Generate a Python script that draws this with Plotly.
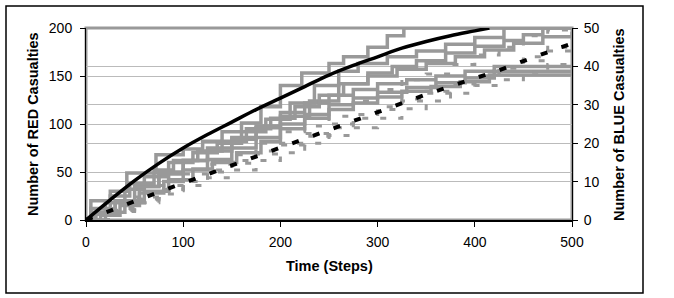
import plotly.graph_objects as go

# ---------------- data ----------------
# Theoretical RED casualties (left axis)
red_theory_t = [0, 25, 50, 75, 100, 125, 150, 175, 200, 225, 250, 275, 300, 325, 350, 375, 400, 415]
red_theory_v = [0, 21, 41, 59, 75, 89, 102, 115, 127, 139, 151, 161, 170, 179, 186, 192, 197, 200]

# Theoretical BLUE casualties (right axis)
blue_theory_t = [0, 25, 50, 75, 100, 125, 150, 175, 200, 225, 250, 275, 300, 325, 350, 375, 400, 425, 450, 475, 500]
blue_theory_v = [0, 2.5, 5.0, 7.3, 9.6, 11.9, 14.2, 16.7, 19.0, 21.2, 23.4, 25.8, 28.2, 30.5, 32.7, 34.8, 36.9, 39.0, 41.4, 43.7, 46.0]

# Simulated RED runs (step lines, left axis)
red_run1_t = [0, 5, 25, 42, 72, 100, 120, 140, 160, 180, 200, 222, 250, 265, 290, 310, 327, 500]
red_run1_v = [0, 20, 30, 49, 68, 74, 82, 92, 101, 118, 140, 153, 163, 170, 180, 192, 200, 200]
red_run2_t = [0, 8, 20, 40, 60, 85, 110, 135, 160, 185, 210, 235, 260, 280, 310, 340, 370, 400, 430, 500]
red_run2_v = [0, 8, 18, 32, 45, 60, 70, 80, 92, 105, 122, 140, 155, 163, 170, 176, 183, 190, 200, 200]
red_run3_t = [0, 10, 30, 55, 75, 100, 125, 150, 175, 200, 230, 260, 290, 315, 340, 370, 400, 430, 450, 470, 500]
red_run3_v = [0, 6, 20, 35, 50, 62, 72, 84, 96, 108, 124, 142, 153, 160, 166, 174, 181, 187, 193, 200, 200]
red_run4_t = [0, 10, 30, 50, 75, 100, 125, 150, 175, 200, 225, 250, 275, 300, 330, 360, 390, 420, 500]
red_run4_v = [0, 8, 20, 35, 48, 62, 75, 86, 98, 112, 122, 130, 136, 142, 146, 150, 155, 160, 160]
red_run5_t = [0, 15, 35, 55, 80, 100, 125, 150, 175, 200, 225, 250, 275, 300, 330, 360, 390, 420, 500]
red_run5_v = [0, 5, 15, 28, 40, 52, 63, 75, 86, 100, 110, 120, 127, 133, 138, 143, 148, 155, 155]
red_run6_t = [0, 20, 40, 60, 85, 110, 130, 155, 180, 200, 225, 250, 275, 300, 325, 355, 385, 415, 500]
red_run6_v = [0, 8, 18, 30, 42, 53, 60, 70, 82, 95, 106, 115, 122, 128, 134, 139, 144, 151, 151]
red_run7_t = [0, 5, 25, 45, 70, 90, 115, 140, 165, 190, 215, 240, 265, 290, 320, 350, 380, 410, 440, 470, 500]
red_run7_v = [0, 12, 25, 38, 52, 62, 72, 82, 95, 106, 118, 130, 142, 150, 157, 163, 170, 177, 184, 191, 196]

# Simulated BLUE runs (dashed step lines, right axis)
blue_run1_t = [0, 25, 50, 75, 100, 125, 150, 175, 200, 225, 250, 275, 300, 325, 350, 375, 400, 425, 450, 475, 500]
blue_run1_v = [0, 3, 6, 9, 12, 14.5, 17, 20, 23, 24.5, 27, 31, 34, 36.5, 38, 40.5, 43, 45, 48, 49.5, 50]
blue_run2_t = [0, 25, 50, 75, 100, 125, 150, 175, 200, 225, 250, 275, 300, 325, 350, 375, 400, 425, 450, 475, 500]
blue_run2_v = [0, 2.8, 5.5, 8, 10.5, 13, 15.5, 18, 20, 22.5, 25, 27.5, 29.5, 31.5, 33, 35.5, 37.5, 40, 42.5, 45, 47]
blue_run3_t = [0, 25, 50, 75, 100, 125, 150, 175, 200, 225, 250, 275, 300, 325, 350, 375, 400, 425, 450, 475, 500]
blue_run3_v = [0, 2.2, 4.5, 6.8, 9, 11, 13, 15.5, 17.5, 20, 22, 24, 26.5, 29, 31, 33, 35, 36.5, 38.5, 40.5, 42]
blue_run4_t = [0, 25, 50, 75, 100, 125, 150, 175, 200, 225, 250, 275, 300, 325, 350, 375, 400, 425, 450, 475, 500]
blue_run4_v = [0, 2.5, 5.2, 7.6, 10, 12.5, 14.8, 17.2, 19.5, 21.8, 24, 26.5, 28.8, 31, 33.5, 35.5, 37.5, 39.5, 41.5, 44, 46]

x_ticks = [0, 100, 200, 300, 400, 500]
y_left_ticks = [0, 50, 100, 150, 200]
y_right_ticks = [0, 10, 20, 30, 40, 50]

# ---------------- figure ----------------
GRAY = "#999999"
FONT = "Liberation Sans, Arial, sans-serif"

fig = go.Figure()

red_runs = [(red_run1_t, red_run1_v), (red_run2_t, red_run2_v), (red_run3_t, red_run3_v),
            (red_run4_t, red_run4_v), (red_run5_t, red_run5_v), (red_run6_t, red_run6_v),
            (red_run7_t, red_run7_v)]
for t, v in red_runs:
    fig.add_trace(go.Scatter(x=t, y=v, mode="lines", line=dict(color=GRAY, width=3.5, shape="hv"),
                             yaxis="y", showlegend=False, hoverinfo="skip"))

blue_runs = [(blue_run1_t, blue_run1_v), (blue_run2_t, blue_run2_v),
             (blue_run3_t, blue_run3_v), (blue_run4_t, blue_run4_v)]
for t, v in blue_runs:
    fig.add_trace(go.Scatter(x=t, y=v, mode="lines",
                             line=dict(color=GRAY, width=3, shape="hv", dash="6px,12px"),
                             yaxis="y2", showlegend=False, hoverinfo="skip"))

fig.add_trace(go.Scatter(x=red_theory_t, y=red_theory_v, mode="lines",
                         line=dict(color="black", width=3.5, shape="spline"),
                         yaxis="y", showlegend=False))
fig.add_trace(go.Scatter(x=blue_theory_t, y=blue_theory_v, mode="lines",
                         line=dict(color="black", width=4, dash="7px,15px"),
                         yaxis="y2", showlegend=False))

fig.update_layout(
    width=674, height=298,
    margin=dict(l=86, r=102, t=28, b=78),
    paper_bgcolor="white", plot_bgcolor="white",
    font=dict(family=FONT, size=14, color="black"),
    xaxis=dict(range=[0, 500], tickvals=x_ticks, ticks="outside", ticklen=5, tickcolor="black",
               showline=True, linecolor="black", linewidth=2, showgrid=False, zeroline=False,
               tickfont=dict(size=14), ticklabelstandoff=3),
    yaxis=dict(range=[0, 200], tickvals=y_left_ticks, ticks="outside", ticklen=5, tickcolor="black",
               showline=True, linecolor="black", linewidth=1, showgrid=True, gridcolor="#bbbbbb",
               gridwidth=1, zeroline=False, tickfont=dict(size=14), ticklabelstandoff=5),
    yaxis2=dict(range=[0, 50], tickvals=y_right_ticks, ticks="outside", ticklen=5, tickcolor="black",
                overlaying="y", side="right", showline=True, linecolor="black", linewidth=1,
                showgrid=True, gridcolor="#bbbbbb", gridwidth=1, zeroline=False,
                tickfont=dict(size=14), ticklabelstandoff=3),
    annotations=[
        dict(text="<b>Number of RED Casualties</b>", xref="paper", yref="paper", x=-0.109, y=0.5,
             textangle=-90, showarrow=False, font=dict(size=14.5), xanchor="center", yanchor="middle"),
        dict(text="<b>Number of BLUE Casualties</b>", xref="paper", yref="paper", x=1.0967, y=0.5,
             textangle=-90, showarrow=False, font=dict(size=14.5), xanchor="center", yanchor="middle"),
        dict(text="<b>Time (Steps)</b>", xref="paper", yref="paper", x=0.5, y=-0.24,
             showarrow=False, font=dict(size=14.5), xanchor="center", yanchor="middle"),
    ],
    shapes=[
        dict(type="rect", xref="paper", yref="paper", x0=0, x1=1, y0=0, y1=1,
             line=dict(color=GRAY, width=3), layer="below"),
        dict(type="rect", xref="paper", yref="paper",
             x0=(6 - 86) / 486, x1=(643 - 86) / 486,
             y0=(220 - 293) / 192, y1=(220 - 6) / 192,
             line=dict(color="black", width=1.5)),
    ],
)

fig.write_html("out.html")
